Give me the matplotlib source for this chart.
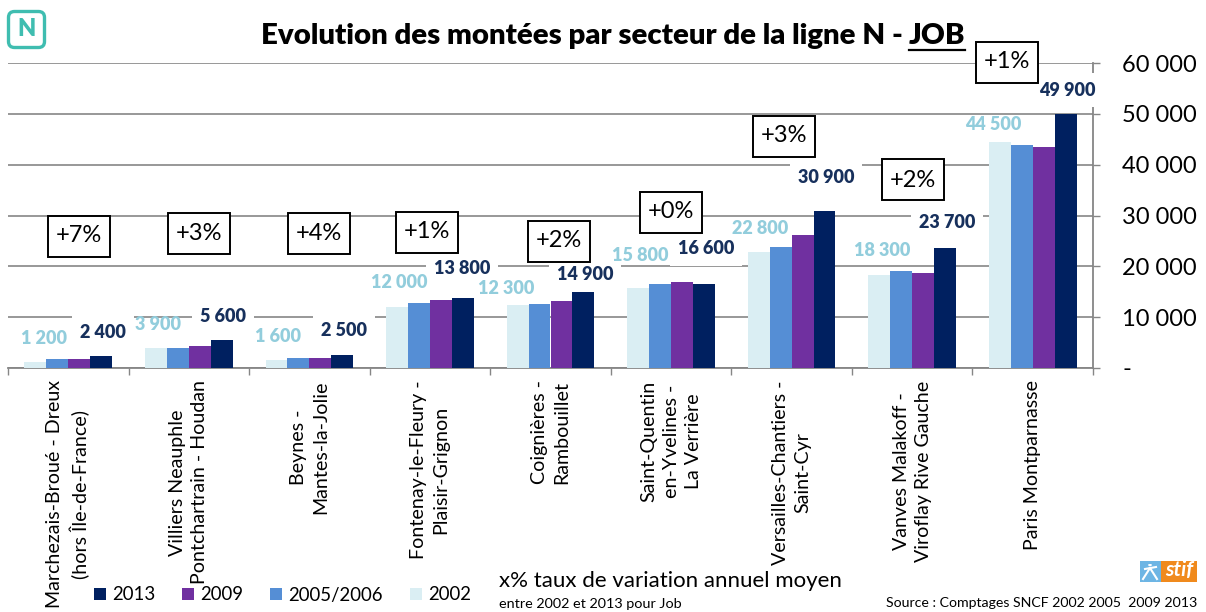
'''
plot.py
Evolution des montees par secteur de la ligne N - JOB
'''

# IMPORTS
import numpy as np
import matplotlib
matplotlib.use('Agg')
import matplotlib.pyplot as plt
from matplotlib.patches import Rectangle, FancyBboxPatch, Circle
from matplotlib.lines import Line2D

# DATA
sectors = ['Marchezais-Broué - Dreux\n(hors Île-de-France)',
           'Villiers Neauphle\nPontchartrain - Houdan',
           'Beynes -\nMantes-la-Jolie',
           'Fontenay-le-Fleury -\nPlaisir-Grignon',
           'Coignières -\nRambouillet',
           'Saint-Quentin\nen-Yvelines -\nLa Verrière',
           'Versailles-Chantiers -\nSaint-Cyr',
           'Vanves Malakoff -\nViroflay Rive Gauche',
           'Paris Montparnasse']
v2002 = [1200, 3900, 1600, 12000, 12300, 15800, 22800, 18300, 44500]
v2005 = [1800, 3900, 1900, 12700, 12600, 16600, 23900, 19000, 43900]
v2009 = [1800, 4400, 2000, 13400, 13200, 16900, 26100, 18600, 43500]
v2013 = [2400, 5600, 2500, 13800, 14900, 16600, 30900, 23700, 49900]
rates = ['+7%', '+3%', '+4%', '+1%', '+2%', '+0%', '+3%', '+2%', '+1%']
yticks = [0, 10000, 20000, 30000, 40000, 50000, 60000]
ytick_labels = ['-', '10 000', '20 000', '30 000', '40 000', '50 000', '60 000']

# label and box centres, in image pixels
pos2002 = [(44, 338), (158, 324), (278, 336), (399, 283), (506, 289), (640, 255), (760, 229), (882, 251), (993, 125)]
pos2013 = [(103, 332), (223, 316), (344, 331), (462, 268), (585, 275), (706, 249), (826, 177), (947, 223), (1067, 90)]
pos_rate = [(79, 236), (199, 233), (319, 233), (427, 232), (559, 241), (671, 212), (784, 136), (913, 180), (1007, 62)]

W = 1206
H = 612
font = 'Lato'
plt.rcParams['font.family'] = [font, 'DejaVu Sans']

def fx(x):
    return x/W

def fy(y):
    return 1 - y/H

def fmt(v):
    return f'{v:,}'.replace(',', ' ')

# EXECUTION
fig = plt.figure(figsize=(W/100, H/100), dpi=100)
ax = fig.add_axes([fx(8), fy(368), 1085/W, 305/H])

# Bars
gray = '#868686'
colors = ['#DAEEF3', '#558ED5', '#7030A0', '#002060']
names = ['2002', '2005/2006', '2009', '2013']
series = [v2002, v2005, v2009, v2013]
x = np.arange(len(sectors)) + 0.5
w = 0.182
bars = []
for i in range(4):
    b = ax.bar(x + (i - 1.5)*w, series[i], w, color=colors[i], label=names[i], zorder=3)
    bars.append(b)

ax.set_xlim(0, 9)
ax.set_ylim(0, 60000)
ax.set_yticks(yticks)
ax.set_yticklabels(ytick_labels, fontsize=17, ha='left')
ax.yaxis.tick_right()
ax.tick_params(axis='y', length=5, width=1.0, color=gray, pad=16)
ax.set_xticks(np.arange(10))
ax.set_xticklabels([])
ax.set_xticks(x, minor=True)
ax.set_xticklabels(sectors, minor=True, rotation=90, va='top', ha='center',
                   multialignment='center', fontsize=14.1, linespacing=1.38)
ax.tick_params(axis='x', which='major', length=5, width=1.0, color=gray)
ax.tick_params(axis='x', which='minor', length=0, pad=9)
ax.yaxis.grid(True, color=gray, lw=1.2, zorder=1)
ax.set_axisbelow(True)
for s in ['top', 'left']:
    ax.spines[s].set_visible(False)
for s in ['bottom', 'right']:
    ax.spines[s].set_color(gray)
    ax.spines[s].set_linewidth(1.3)

# Value labels
for i in range(len(sectors)):
    px, py = pos2002[i]
    fig.text(fx(px), fy(py), fmt(v2002[i]), color='#92CDDC', fontsize=13, fontweight='heavy',
             ha='center', va='center', zorder=5)
    px, py = pos2013[i]
    fig.text(fx(px), fy(py), fmt(v2013[i]), color='#17305C', fontsize=13, fontweight='heavy',
             ha='center', va='center', zorder=4,
             bbox=dict(boxstyle='square,pad=0.45', fc='white', ec='none'))

# Rate boxes
for i in range(len(rates)):
    px, py = pos_rate[i]
    fig.add_artist(Rectangle((fx(px - 31), fy(py + 20.5)), 62/W, 41/H, transform=fig.transFigure,
                             fc='white', ec='black', lw=1.4, zorder=6))
    fig.text(fx(px), fy(py), rates[i], fontsize=17, ha='center', va='center', zorder=7)

# Title with underlined JOB
r = fig.canvas.get_renderer()
t2 = fig.text(fx(965), fy(36), 'JOB', fontsize=21.2, fontweight='heavy', ha='right', va='center', zorder=8)
bb = t2.get_window_extent(r)
fig.text(bb.x0/W - 6/W, fy(36), 'Evolution des montées par secteur de la ligne N -', fontsize=21.2,
         fontweight='heavy', ha='right', va='center', zorder=8)
fig.add_artist(Line2D([bb.x0/W, bb.x1/W], [fy(49.5), fy(49.5)], color='black', lw=1.6, zorder=8))

# N badge
fig.add_artist(FancyBboxPatch((fx(8.5), fy(47.5)), 36/W, 36/H, boxstyle='round,pad=0.0,rounding_size=0.005',
                              transform=fig.transFigure, fc='white', ec='#3FBDB0', lw=2.4,
                              mutation_aspect=W/H, zorder=8))
fig.text(fx(26.5), fy(29), 'N', color='#3FBDB0', fontsize=17, fontweight='heavy', ha='center', va='center', zorder=9)

# Legend
handles = [bars[i] for i in [3, 2, 1, 0]]
leg = fig.legend(handles, [names[i] for i in [3, 2, 1, 0]], ncol=4, frameon=False, fontsize=13.4,
                 loc='center left', bbox_to_anchor=(fx(94), fy(595)), handlelength=0.65, handleheight=0.65,
                 handletextpad=0.32, columnspacing=1.45, borderpad=0, borderaxespad=0)
leg.set_zorder(8)

# Bottom notes
fig.text(fx(499), fy(581), 'x% taux de variation annuel moyen', fontsize=16, ha='left', va='center', zorder=8)
fig.text(fx(499), fy(604), 'entre 2002 et 2013 pour Job', fontsize=10.4, ha='left', va='center', zorder=8)
fig.text(fx(1197), fy(603), 'Source : Comptages SNCF 2002 2005  2009 2013', fontsize=10.15, ha='right', va='center', zorder=8)

# stif logo
fig.add_artist(Rectangle((fx(1140), fy(581.5)), 21/W, 21/H, transform=fig.transFigure, fc='#6DB5E4', ec='none', zorder=8))
fig.add_artist(Rectangle((fx(1161), fy(581.5)), 36/W, 21/H, transform=fig.transFigure, fc='#F08A1D', ec='none', zorder=8))
fig.text(fx(1179), fy(570), 'stif', color='white', fontsize=15, fontweight='bold', style='italic',
         ha='center', va='center', zorder=9)
# little walking figure in the blue part
for xs, ys in [([1150, 1143], [568, 579]), ([1150, 1157], [568, 579]), ([1145, 1156], [569, 567])]:
    fig.add_artist(Line2D([fx(a) for a in xs], [fy(b) for b in ys], color='white', lw=1.5, zorder=9))
fig.add_artist(Circle((fx(1150), fy(565)), 2/W, transform=fig.transFigure, fc='white', ec='none', zorder=9))

plt.savefig('out.png', dpi=100)
